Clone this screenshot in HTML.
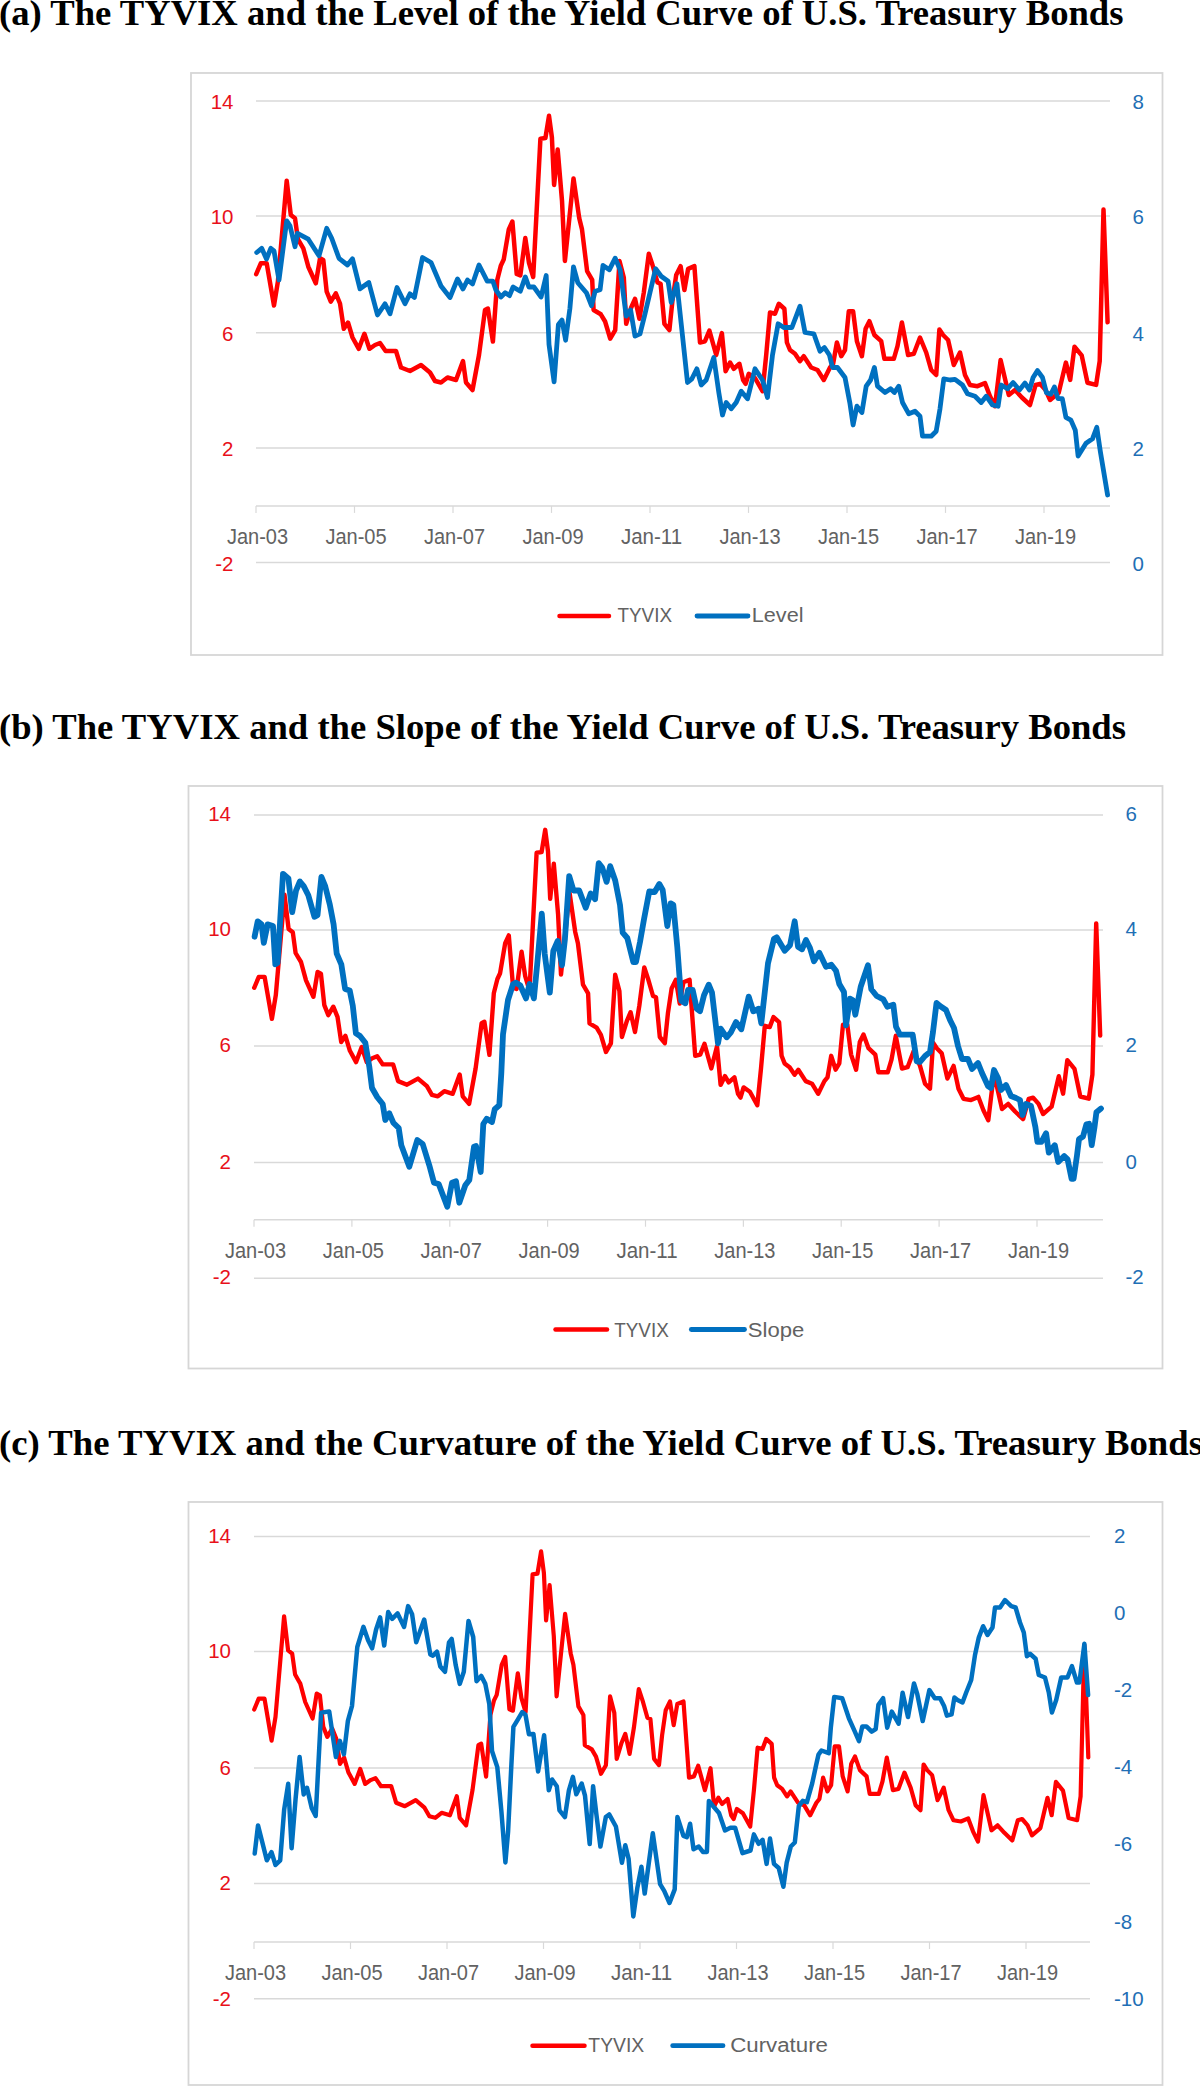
<!DOCTYPE html>
<html><head><meta charset="utf-8"><title>TYVIX and the Yield Curve</title><style>
html,body{margin:0;padding:0;background:#fff;overflow:hidden;}
svg{display:block;}
.t{font-family:"Liberation Serif",serif;font-weight:bold;font-size:36px;fill:#000;}
.ax{font-family:"Liberation Sans",sans-serif;font-size:21.5px;fill:#626262;}
.lr{font-family:"Liberation Sans",sans-serif;font-size:20.5px;fill:#E8101A;}
.rb{font-family:"Liberation Sans",sans-serif;font-size:20.5px;fill:#1F6FB5;}
.lg{font-family:"Liberation Sans",sans-serif;font-size:20px;fill:#626262;}
</style></head><body>
<svg width="1200" height="2086" viewBox="0 0 1200 2086">
<rect width="1200" height="2086" fill="#fff"/>
<text class="t" x="-1" y="25" textLength="1124.5" lengthAdjust="spacingAndGlyphs">(a) The TYVIX and the Level of the Yield Curve of U.S. Treasury Bonds</text>
<rect x="191" y="73" width="971.5" height="582" fill="#fff" stroke="#D6D6D6" stroke-width="1.8"/>
<line x1="256" x2="1110" y1="101.0" y2="101.0" stroke="#D9D9D9" stroke-width="1.5"/>
<text class="lr" x="233.5" y="109.3" text-anchor="end">14</text>
<line x1="256" x2="1110" y1="216.1" y2="216.1" stroke="#D9D9D9" stroke-width="1.5"/>
<text class="lr" x="233.5" y="224.4" text-anchor="end">10</text>
<line x1="256" x2="1110" y1="332.8" y2="332.8" stroke="#D9D9D9" stroke-width="1.5"/>
<text class="lr" x="233.5" y="341.1" text-anchor="end">6</text>
<line x1="256" x2="1110" y1="447.9" y2="447.9" stroke="#D9D9D9" stroke-width="1.5"/>
<text class="lr" x="233.5" y="456.2" text-anchor="end">2</text>
<line x1="256" x2="1110" y1="562.6" y2="562.6" stroke="#D9D9D9" stroke-width="1.5"/>
<text class="lr" x="233.5" y="570.9" text-anchor="end">-2</text>
<text class="rb" x="1132.5" y="109.3">8</text>
<text class="rb" x="1132.5" y="224.4">6</text>
<text class="rb" x="1132.5" y="341.1">4</text>
<text class="rb" x="1132.5" y="456.2">2</text>
<text class="rb" x="1132.5" y="570.9">0</text>
<line x1="256" x2="1110" y1="505.9" y2="505.9" stroke="#D9D9D9" stroke-width="1.5"/>
<line x1="256.0" x2="256.0" y1="505.9" y2="512.9" stroke="#D9D9D9" stroke-width="1.2"/>
<text class="ax" x="226.9" y="544.3" textLength="61.2" lengthAdjust="spacingAndGlyphs">Jan-03</text>
<line x1="354.5" x2="354.5" y1="505.9" y2="512.9" stroke="#D9D9D9" stroke-width="1.2"/>
<text class="ax" x="325.4" y="544.3" textLength="61.2" lengthAdjust="spacingAndGlyphs">Jan-05</text>
<line x1="453.0" x2="453.0" y1="505.9" y2="512.9" stroke="#D9D9D9" stroke-width="1.2"/>
<text class="ax" x="423.9" y="544.3" textLength="61.2" lengthAdjust="spacingAndGlyphs">Jan-07</text>
<line x1="551.5" x2="551.5" y1="505.9" y2="512.9" stroke="#D9D9D9" stroke-width="1.2"/>
<text class="ax" x="522.4" y="544.3" textLength="61.2" lengthAdjust="spacingAndGlyphs">Jan-09</text>
<line x1="650.0" x2="650.0" y1="505.9" y2="512.9" stroke="#D9D9D9" stroke-width="1.2"/>
<text class="ax" x="620.9" y="544.3" textLength="61.2" lengthAdjust="spacingAndGlyphs">Jan-11</text>
<line x1="748.5" x2="748.5" y1="505.9" y2="512.9" stroke="#D9D9D9" stroke-width="1.2"/>
<text class="ax" x="719.4" y="544.3" textLength="61.2" lengthAdjust="spacingAndGlyphs">Jan-13</text>
<line x1="847.0" x2="847.0" y1="505.9" y2="512.9" stroke="#D9D9D9" stroke-width="1.2"/>
<text class="ax" x="817.9" y="544.3" textLength="61.2" lengthAdjust="spacingAndGlyphs">Jan-15</text>
<line x1="945.5" x2="945.5" y1="505.9" y2="512.9" stroke="#D9D9D9" stroke-width="1.2"/>
<text class="ax" x="916.4" y="544.3" textLength="61.2" lengthAdjust="spacingAndGlyphs">Jan-17</text>
<line x1="1044.0" x2="1044.0" y1="505.9" y2="512.9" stroke="#D9D9D9" stroke-width="1.2"/>
<text class="ax" x="1014.9" y="544.3" textLength="61.2" lengthAdjust="spacingAndGlyphs">Jan-19</text>
<line x1="559.5" x2="609" y1="616" y2="616" stroke="#FF0000" stroke-width="4.5" stroke-linecap="round"/>
<text class="lg" x="617.5" y="621.6" textLength="54.5" lengthAdjust="spacingAndGlyphs">TYVIX</text>
<line x1="697" x2="748" y1="616" y2="616" stroke="#0070C0" stroke-width="4.8" stroke-linecap="round"/>
<text class="lg" x="751.8" y="621.6" textLength="51.7" lengthAdjust="spacingAndGlyphs">Level</text>
<polyline fill="none" stroke="#FF0000" stroke-width="4.5" stroke-linejoin="round" stroke-linecap="round" points="256.2,274.2 260.8,263.3 266.7,263.3 274,305.5 277.9,281.7 286.7,180.8 290.8,215 295,218.3 297.9,239.2 300.8,244.2 303.3,248.3 308.3,266.7 315.8,283.3 320,258.3 323.3,260 326.7,291.7 330.8,301.7 335.8,293.3 340,303.5 343.8,328.8 348,322.5 352.5,337.5 358.8,348.8 364.4,333.8 369.4,348.8 375,345 380,343 385.6,351 396,351 401,367.5 410,371 421,365 430,372.5 435,381 441,382.5 447.5,377.5 456,380 463,361 466,382.5 472.5,390 479,355 485,310 487.9,308.5 492.9,341.6 497.3,279.8 500.9,265.4 503.7,259.6 508.8,229.4 512.4,221.5 516.7,274 520.3,275.5 525.3,238 528.9,262.5 533.2,277 540.4,138.8 545.4,138.1 549,115.8 551.9,137.4 554.1,184.9 557.7,149.6 562,200.7 564.9,261 573.5,178.4 579.2,218 582,229.4 587.1,271.1 592.2,279.8 593.6,310 600.8,314.3 605.1,321.5 610.2,338.7 615.2,330.1 619.5,261.1 623.8,277.5 626.2,323.8 631.2,307.5 635,298.8 639.4,318.8 643.8,292.5 648.8,253.8 652.5,265 657.5,282.5 660.6,283.8 664.4,323.8 669.4,330 672.5,300 676.2,275 680.6,266.2 684.4,290 688.1,268.8 694.4,266.2 700,342.5 705,341.2 709.4,330.6 716.2,355 721.9,333.1 725.6,371.2 730,362.5 733.8,368.8 739.4,363.8 743.1,380 745.6,383.8 748.8,373.8 755,378 762.5,391.2 766.2,355 770,312.5 775,313.8 778.8,303.8 784.4,308.8 786.9,342.5 790,350 795,353.8 800,361.2 803.8,356.2 811.2,367.5 817.5,370 823.8,380 830,367.5 833.1,363.8 836.9,342.5 841.2,356.2 845,350 848.8,311.2 853.1,311.2 856.9,341.2 861.9,356.2 865.6,328.8 869.4,321.2 874.4,335 881.2,341.2 884.4,358.8 893.8,358.8 897.5,346.2 901.9,322.5 908.1,355 913.8,353.8 920,337.5 926.2,352.5 931.2,370 936.2,375 939.4,329.4 943.1,335 948.1,340 953.8,365 960,352.5 965,375 970,385 977.5,386.2 985,383.1 990,396.2 995,406.2 1000.6,360 1005,378.8 1008.8,395 1015,390 1021.9,397.5 1030,405 1035.6,385 1040,383.8 1045.6,390 1050.1,400 1058.7,392.8 1065.9,362.6 1070.2,379.9 1074.5,346.8 1081.7,355.4 1087.5,382.7 1096.1,384.9 1099.7,361.2 1103.5,209.5 1107.6,322.3"/>
<polyline fill="none" stroke="#0070C0" stroke-width="4.8" stroke-linejoin="round" stroke-linecap="round" points="256.7,252.5 261.7,248.3 266.5,259 270.8,248.3 274,250.8 279,280 286.7,220.8 290,225.8 295,246.7 297.5,233.3 308.3,239.2 319,255.8 326.7,228.3 331.7,238.3 339,258.3 347.5,265 352.5,258.8 360,288.8 368.8,282.5 377.5,315 385,303.8 390,313.8 397,287.5 405,303.8 410,293.8 414.4,297.5 422.5,257.5 431,262.5 441,286 450,297.5 457.5,279 463,289 467.5,280 472.5,284 479,265 487.2,281.2 492.9,281.2 495.8,289.8 500.9,297 505.2,292.7 509.5,295.6 513.1,287 520.3,291.3 525.3,276.9 528.9,287 533.9,287 541.1,297 546.2,275.5 549,344.5 554.1,381.9 558.4,324.4 562,320 565.6,340.2 569.9,308.5 573.5,266.8 577.8,282.7 586.4,292.7 591.5,305.7 595.1,291.3 600.1,289.8 603,265.4 609.4,269.7 615.2,258.2 620.2,270 626.2,316.2 630.6,310 635,336.2 640,333.8 645,313.8 650,292.5 655.6,268.8 661.2,276.2 668.1,281.2 671.2,302.5 676.9,283.8 681.2,323.8 687.5,382.5 691.9,378.8 696.9,368.8 701.2,385 706.2,380 713.8,357.5 718.8,392.5 722.5,415 726.2,402.5 731.2,408.8 736.2,402.5 741.2,391.2 747.5,398.8 755,368.8 762.5,380 767.5,397.5 772.5,355 778.1,323.8 783.8,327.5 791.9,327.5 800,306.2 805,332.5 813.8,333.8 820,351.2 824.4,347.5 829.4,355 832.5,367.5 837.5,367.5 845,377.5 850,403.8 853.1,425 856.9,406.2 861.9,412.5 866.2,386.2 870.6,380 874.4,367.5 877.5,386.2 885,392.5 890.6,388.8 894.4,392.5 898.8,386.2 902.5,402.5 908.8,413.8 915,411.2 920,416.2 922.5,436.2 931.2,436.2 936.2,431.2 940,408.8 943.8,378.8 950,380 955,379.4 962.5,385 967.5,393.8 975,396.2 981.2,402.5 986.2,396.2 992.5,405 998.1,406.2 1001.2,385 1007.5,388.8 1013.1,382.5 1019.4,390 1025,383.1 1029.4,390 1033.1,377.5 1037.5,370.6 1042.5,377.5 1046.5,392.8 1050.8,394.2 1054.4,387 1058,398.6 1062.3,398.6 1065.9,417.3 1070.9,420.1 1075.3,430.2 1078.1,456.1 1086,443.2 1092.5,438.8 1096.8,427.3 1100.4,451.8 1107.6,495"/>
<text class="t" x="-1" y="739" textLength="1127" lengthAdjust="spacingAndGlyphs">(b) The TYVIX and the Slope of the Yield Curve of U.S. Treasury Bonds</text>
<rect x="188.5" y="786" width="974.0" height="582.5" fill="#fff" stroke="#D6D6D6" stroke-width="1.8"/>
<line x1="254" x2="1103" y1="815.0" y2="815.0" stroke="#D9D9D9" stroke-width="1.5"/>
<text class="lr" x="231" y="821.1" text-anchor="end">14</text>
<line x1="254" x2="1103" y1="930.0" y2="930.0" stroke="#D9D9D9" stroke-width="1.5"/>
<text class="lr" x="231" y="936.1" text-anchor="end">10</text>
<line x1="254" x2="1103" y1="1046.0" y2="1046.0" stroke="#D9D9D9" stroke-width="1.5"/>
<text class="lr" x="231" y="1052.1" text-anchor="end">6</text>
<line x1="254" x2="1103" y1="1162.5" y2="1162.5" stroke="#D9D9D9" stroke-width="1.5"/>
<text class="lr" x="231" y="1168.6" text-anchor="end">2</text>
<line x1="254" x2="1103" y1="1278.3" y2="1278.3" stroke="#D9D9D9" stroke-width="1.5"/>
<text class="lr" x="231" y="1284.4" text-anchor="end">-2</text>
<text class="rb" x="1125.5" y="821.1">6</text>
<text class="rb" x="1125.5" y="936.1">4</text>
<text class="rb" x="1125.5" y="1052.1">2</text>
<text class="rb" x="1125.5" y="1168.6">0</text>
<text class="rb" x="1125.5" y="1284.4">-2</text>
<line x1="254" x2="1103" y1="1219.7" y2="1219.7" stroke="#D9D9D9" stroke-width="1.5"/>
<line x1="254.0" x2="254.0" y1="1219.7" y2="1226.7" stroke="#D9D9D9" stroke-width="1.2"/>
<text class="ax" x="224.9" y="1258.1" textLength="61.2" lengthAdjust="spacingAndGlyphs">Jan-03</text>
<line x1="351.9" x2="351.9" y1="1219.7" y2="1226.7" stroke="#D9D9D9" stroke-width="1.2"/>
<text class="ax" x="322.8" y="1258.1" textLength="61.2" lengthAdjust="spacingAndGlyphs">Jan-05</text>
<line x1="449.8" x2="449.8" y1="1219.7" y2="1226.7" stroke="#D9D9D9" stroke-width="1.2"/>
<text class="ax" x="420.6" y="1258.1" textLength="61.2" lengthAdjust="spacingAndGlyphs">Jan-07</text>
<line x1="547.6" x2="547.6" y1="1219.7" y2="1226.7" stroke="#D9D9D9" stroke-width="1.2"/>
<text class="ax" x="518.5" y="1258.1" textLength="61.2" lengthAdjust="spacingAndGlyphs">Jan-09</text>
<line x1="645.5" x2="645.5" y1="1219.7" y2="1226.7" stroke="#D9D9D9" stroke-width="1.2"/>
<text class="ax" x="616.4" y="1258.1" textLength="61.2" lengthAdjust="spacingAndGlyphs">Jan-11</text>
<line x1="743.4" x2="743.4" y1="1219.7" y2="1226.7" stroke="#D9D9D9" stroke-width="1.2"/>
<text class="ax" x="714.3" y="1258.1" textLength="61.2" lengthAdjust="spacingAndGlyphs">Jan-13</text>
<line x1="841.2" x2="841.2" y1="1219.7" y2="1226.7" stroke="#D9D9D9" stroke-width="1.2"/>
<text class="ax" x="812.1" y="1258.1" textLength="61.2" lengthAdjust="spacingAndGlyphs">Jan-15</text>
<line x1="939.1" x2="939.1" y1="1219.7" y2="1226.7" stroke="#D9D9D9" stroke-width="1.2"/>
<text class="ax" x="910.0" y="1258.1" textLength="61.2" lengthAdjust="spacingAndGlyphs">Jan-17</text>
<line x1="1037.0" x2="1037.0" y1="1219.7" y2="1226.7" stroke="#D9D9D9" stroke-width="1.2"/>
<text class="ax" x="1007.9" y="1258.1" textLength="61.2" lengthAdjust="spacingAndGlyphs">Jan-19</text>
<line x1="555.5" x2="607" y1="1329.5" y2="1329.5" stroke="#FF0000" stroke-width="4.5" stroke-linecap="round"/>
<text class="lg" x="614.2" y="1336.5" textLength="54.6" lengthAdjust="spacingAndGlyphs">TYVIX</text>
<line x1="691.3" x2="744.5" y1="1329.5" y2="1329.5" stroke="#0070C0" stroke-width="4.8" stroke-linecap="round"/>
<text class="lg" x="747.8" y="1336.5" textLength="56.4" lengthAdjust="spacingAndGlyphs">Slope</text>
<polyline fill="none" stroke="#FF0000" stroke-width="4.4" stroke-linejoin="round" stroke-linecap="round" points="254.2,987.8 258.8,976.9 264.6,976.9 271.9,1018.9 275.8,995.2 284.5,894.7 288.6,928.9 292.8,932.2 295.6,953 298.5,957.9 301,962 306,980.3 313.4,996.8 317.6,971.9 320.9,973.6 324.3,1005.1 328.3,1015.1 333.3,1006.7 337.5,1016.9 341.2,1042 345.4,1035.8 349.9,1050.8 356.1,1062.1 361.7,1047 366.7,1062.1 372.2,1058.3 377.2,1056.3 382.8,1064.4 393.1,1064.4 398.1,1081.1 407,1084.7 418,1078.6 426.9,1086.2 431.9,1094.8 437.8,1096.3 444.3,1091.2 452.7,1093.8 459.7,1074.5 462.7,1096.3 469.1,1103.9 475.6,1068.5 481.6,1023.3 484.4,1021.8 489.4,1054.9 493.8,993.3 497.4,979 500.1,973.2 505.2,943.2 508.8,935.4 513.1,987.6 516.6,989 521.6,951.8 525.2,976.1 529.5,990.5 536.6,852.8 541.6,852.1 545.2,829.8 548,851.4 550.2,898.8 553.8,863.6 558.1,914.6 561,974.6 569.5,892.3 575.2,931.9 577.9,943.2 583,984.7 588.1,993.3 589.5,1023.3 596.6,1027.6 600.9,1034.8 606,1052 610.9,1043.3 615.2,974.7 619.4,991 621.9,1037 626.9,1020.9 630.6,1012.2 635,1032 639.3,1005.9 644.3,967.4 648,978.6 653,996 656,997.2 659.8,1037 664.8,1043.2 667.9,1013.4 671.6,988.5 675.9,979.8 679.7,1003.5 683.4,982.3 689.6,979.8 695.2,1055.8 700.2,1054.6 704.5,1043.8 711.3,1068.5 717,1046.3 720.6,1084.9 725,1076.1 728.7,1082.4 734.4,1077.3 738,1093.8 740.5,1097.6 743.6,1087.4 749.9,1091.7 757.3,1105.2 761,1068.5 764.8,1025.8 769.7,1027.1 773.5,1017.1 779.1,1022.1 781.6,1055.8 784.6,1063.4 789.6,1067.2 794.6,1074.8 798.3,1069.7 805.7,1081.1 812,1083.7 818.2,1093.8 824.4,1081.1 827.5,1077.3 831.2,1055.8 835.6,1069.7 839.3,1063.4 843,1024.6 847.3,1024.6 851.1,1054.6 856.1,1069.7 859.8,1042 863.5,1034.5 868.5,1048.2 875.3,1054.6 878.4,1072.3 887.7,1072.3 891.5,1059.6 895.8,1035.8 902,1068.5 907.6,1067.2 913.8,1050.8 920,1065.9 925,1083.7 930,1088.7 933.1,1042.6 936.8,1048.2 941.7,1053.3 947.4,1078.6 953.6,1065.9 958.5,1088.7 963.5,1098.8 971,1100.1 978.4,1096.9 983.4,1110.2 988.3,1120.3 993.9,1073.5 998.3,1092.5 1002,1109 1008.2,1103.9 1015.1,1111.5 1023.1,1119.1 1028.7,1098.8 1033.1,1097.6 1038.6,1103.9 1043.1,1114 1051.6,1106.7 1058.8,1076.2 1063.1,1093.7 1067.3,1060.2 1074.5,1068.9 1080.3,1096.5 1088.8,1098.7 1092.4,1074.7 1096.2,923.4 1100.2,1035.6"/>
<polyline fill="none" stroke="#0070C0" stroke-width="5.8" stroke-linejoin="round" stroke-linecap="round" points="254.6,936.7 257.7,921.4 261.5,924.4 263.8,942.9 267.6,924.4 273,926 275.3,964.3 277.6,962.8 283,873.8 288.4,878.4 292.2,912.2 296,890.7 299.9,881.5 303.7,886.1 308.3,895.3 314.4,916.8 317.5,915.2 321.4,876.9 325.2,886.1 329.8,904.5 333.6,924.4 336.7,953.6 341.3,964.3 345.1,988.9 349.7,990.4 352.8,1005.8 355.9,1033.4 360,1036 365.3,1042.7 369.3,1066.7 372,1088 377.3,1097.3 382.7,1104 385.3,1120 389.3,1113.3 393.3,1122.7 398.7,1128 401.3,1145.3 409.3,1166.7 417.3,1140 422.7,1144 429.3,1165.3 434,1182.7 438.7,1184 447.3,1206.7 452,1182.7 456,1181.3 459.3,1202.7 465.3,1185.3 469.3,1180 474,1146.7 476,1146 480.7,1172 483.3,1124 486.7,1118.7 492,1122 494.7,1109.3 499.3,1105.3 501.3,1073.3 503,1034.4 508,1000 513.1,984 516,982.6 520.3,985.5 526,998.4 529.6,984 533.9,998.4 537.5,961 541.8,913.6 544.7,953.8 549.8,992.7 553.3,951 557.7,940.9 562,965.3 564.9,939.4 569.2,876.2 573.5,890.5 579.2,890.5 585.7,907.8 590.7,893.4 595.1,899.2 598.7,863.2 602.2,867.5 606.6,881.9 610.2,866.1 615.2,880.5 620,905 622.7,932.7 627.3,938 633.3,962 636,962 640,942 644,919.3 649.3,891.3 654.7,892 659.3,884 662.7,890 667.3,926 670.7,903.3 673.3,904.7 677.3,947.3 681.3,1000.7 685.3,1003.3 688,990 692.7,990 696.7,1008.7 700,1011.3 704,995.3 708.7,984.7 712,992.7 718,1043.3 720.7,1028.7 726.7,1037.3 730.7,1032.7 736,1022 741.3,1029.3 748.7,996.7 753.3,1011.3 758.7,1008.7 761.3,1023.3 768,963.3 774,938.7 776.7,937.3 784.7,950.7 790,945.3 794.7,921.3 798,946.7 802,949.3 806,940 810,948 814,961.3 819.3,952.7 826,966.7 831.3,964.7 836,970.7 839.3,984 844,992 846,1025.3 850,998.7 852.7,1000 855.3,1014.7 860.7,986.7 868,965.3 871.3,989.3 876.7,996 883.3,999.3 887.3,1006.7 893.3,1004.7 896,1026.7 900,1034.7 912.7,1034.7 916.7,1061.3 920,1062 925,1056 930,1052 933,1032 936.5,1003 940,1006 946,1010 950,1020 954,1028 958,1046 962,1059 968,1059 972,1069 978,1063 982,1073 988,1086 991,1088 994,1070 998,1078 1001,1090 1006,1085 1011,1096 1016,1098 1020,1100 1022.5,1115 1026,1104 1031,1106 1035.4,1127.1 1037.4,1141.9 1041.4,1141.9 1046.1,1133.2 1048.8,1152.6 1054.8,1145.2 1058.2,1162 1064.2,1156 1067.6,1159.3 1071.6,1178.8 1073.6,1178.8 1077,1155.3 1079,1139.2 1083,1136.5 1086.4,1124.4 1089.1,1123.8 1091.7,1145.2 1094.4,1127.8 1096.4,1112.3 1101,1108.5"/>
<text class="t" x="-1" y="1455" textLength="1204" lengthAdjust="spacingAndGlyphs">(c) The TYVIX and the Curvature of the Yield Curve of U.S. Treasury Bonds</text>
<rect x="188.5" y="1502" width="974.0" height="583" fill="#fff" stroke="#D6D6D6" stroke-width="1.8"/>
<line x1="254" x2="1090" y1="1536.6" y2="1536.6" stroke="#D9D9D9" stroke-width="1.5"/>
<text class="lr" x="231" y="1543.4" text-anchor="end">14</text>
<line x1="254" x2="1090" y1="1651.5" y2="1651.5" stroke="#D9D9D9" stroke-width="1.5"/>
<text class="lr" x="231" y="1658.3" text-anchor="end">10</text>
<line x1="254" x2="1090" y1="1767.9" y2="1767.9" stroke="#D9D9D9" stroke-width="1.5"/>
<text class="lr" x="231" y="1774.7" text-anchor="end">6</text>
<line x1="254" x2="1090" y1="1883.4" y2="1883.4" stroke="#D9D9D9" stroke-width="1.5"/>
<text class="lr" x="231" y="1890.2" text-anchor="end">2</text>
<line x1="254" x2="1090" y1="1998.7" y2="1998.7" stroke="#D9D9D9" stroke-width="1.5"/>
<text class="lr" x="231" y="2005.5" text-anchor="end">-2</text>
<text class="rb" x="1114" y="1543.4">2</text>
<text class="rb" x="1114" y="1620.4">0</text>
<text class="rb" x="1114" y="1697.4">-2</text>
<text class="rb" x="1114" y="1774.4">-4</text>
<text class="rb" x="1114" y="1851.4">-6</text>
<text class="rb" x="1114" y="1928.5">-8</text>
<text class="rb" x="1114" y="2005.5">-10</text>
<line x1="254" x2="1090" y1="1942.0" y2="1942.0" stroke="#D9D9D9" stroke-width="1.5"/>
<line x1="254.0" x2="254.0" y1="1942.0" y2="1949.0" stroke="#D9D9D9" stroke-width="1.2"/>
<text class="ax" x="224.9" y="1980.4" textLength="61.2" lengthAdjust="spacingAndGlyphs">Jan-03</text>
<line x1="350.5" x2="350.5" y1="1942.0" y2="1949.0" stroke="#D9D9D9" stroke-width="1.2"/>
<text class="ax" x="321.4" y="1980.4" textLength="61.2" lengthAdjust="spacingAndGlyphs">Jan-05</text>
<line x1="447.0" x2="447.0" y1="1942.0" y2="1949.0" stroke="#D9D9D9" stroke-width="1.2"/>
<text class="ax" x="417.9" y="1980.4" textLength="61.2" lengthAdjust="spacingAndGlyphs">Jan-07</text>
<line x1="543.5" x2="543.5" y1="1942.0" y2="1949.0" stroke="#D9D9D9" stroke-width="1.2"/>
<text class="ax" x="514.4" y="1980.4" textLength="61.2" lengthAdjust="spacingAndGlyphs">Jan-09</text>
<line x1="640.0" x2="640.0" y1="1942.0" y2="1949.0" stroke="#D9D9D9" stroke-width="1.2"/>
<text class="ax" x="610.9" y="1980.4" textLength="61.2" lengthAdjust="spacingAndGlyphs">Jan-11</text>
<line x1="736.5" x2="736.5" y1="1942.0" y2="1949.0" stroke="#D9D9D9" stroke-width="1.2"/>
<text class="ax" x="707.4" y="1980.4" textLength="61.2" lengthAdjust="spacingAndGlyphs">Jan-13</text>
<line x1="833.0" x2="833.0" y1="1942.0" y2="1949.0" stroke="#D9D9D9" stroke-width="1.2"/>
<text class="ax" x="803.9" y="1980.4" textLength="61.2" lengthAdjust="spacingAndGlyphs">Jan-15</text>
<line x1="929.5" x2="929.5" y1="1942.0" y2="1949.0" stroke="#D9D9D9" stroke-width="1.2"/>
<text class="ax" x="900.4" y="1980.4" textLength="61.2" lengthAdjust="spacingAndGlyphs">Jan-17</text>
<line x1="1026.0" x2="1026.0" y1="1942.0" y2="1949.0" stroke="#D9D9D9" stroke-width="1.2"/>
<text class="ax" x="996.9" y="1980.4" textLength="61.2" lengthAdjust="spacingAndGlyphs">Jan-19</text>
<line x1="532.5" x2="584.5" y1="2045.7" y2="2045.7" stroke="#FF0000" stroke-width="4.5" stroke-linecap="round"/>
<text class="lg" x="588.3" y="2052.4" textLength="56.0" lengthAdjust="spacingAndGlyphs">TYVIX</text>
<line x1="672.7" x2="723" y1="2045.7" y2="2045.7" stroke="#0070C0" stroke-width="4.8" stroke-linecap="round"/>
<text class="lg" x="730.2" y="2052.4" textLength="97.8" lengthAdjust="spacingAndGlyphs">Curvature</text>
<polyline fill="none" stroke="#FF0000" stroke-width="4.2" stroke-linejoin="round" stroke-linecap="round" points="254.2,1709.5 258.7,1698.6 264.5,1698.6 271.6,1740.7 275.5,1716.9 284.1,1616.3 288.1,1650.4 292.2,1653.7 295.1,1674.5 297.9,1679.5 300.3,1683.6 305.2,1702 312.6,1718.5 316.7,1693.6 319.9,1695.3 323.3,1726.9 327.3,1736.9 332.2,1728.5 336.3,1738.7 340,1763.9 344.1,1757.6 348.5,1772.6 354.7,1783.9 360.2,1768.9 365.1,1783.9 370.6,1780.1 375.5,1778.1 381,1786.2 391.2,1786.2 396.1,1802.7 404.9,1806.2 415.7,1800.2 424.5,1807.7 429.4,1816.3 435.3,1817.8 441.6,1812.8 449.9,1815.3 456.8,1796.2 459.7,1817.8 466.1,1825.3 472.5,1790.2 478.4,1745.2 481.2,1743.7 486.1,1776.7 490.4,1715 493.9,1700.7 496.7,1694.9 501.7,1664.8 505.2,1656.9 509.4,1709.3 512.9,1710.7 517.8,1673.3 521.4,1697.8 525.6,1712.2 532.6,1574.3 537.5,1573.6 541.1,1551.4 543.9,1572.9 546.1,1620.4 549.6,1585.1 553.8,1636.1 556.6,1696.3 565.1,1613.9 570.7,1653.4 573.4,1664.8 578.4,1706.4 583.4,1715 584.8,1745.2 591.8,1749.4 596,1756.6 601,1773.8 605.9,1765.2 610.1,1696.4 614.3,1712.7 616.7,1758.9 621.6,1742.7 625.3,1733.9 629.6,1753.9 633.9,1727.7 638.8,1689.1 642.5,1700.3 647.4,1717.7 650.4,1719 654.1,1758.9 659,1765.1 662.1,1735.2 665.7,1710.2 670,1701.5 673.7,1725.2 677.3,1704 683.5,1701.5 689,1777.6 693.9,1776.4 698.2,1765.7 704.9,1790.2 710.5,1768.2 714.1,1806.5 718.4,1797.7 722.1,1804 727.6,1799 731.2,1815.3 733.7,1819 736.8,1809 742.9,1813.3 750.2,1826.6 753.9,1790.2 757.6,1747.7 762.5,1748.9 766.2,1738.9 771.7,1743.9 774.1,1777.6 777.2,1785.2 782.1,1788.9 787,1796.4 790.6,1791.4 798,1802.7 804.1,1805.2 810.2,1815.3 816.4,1802.7 819.4,1799 823.1,1777.6 827.4,1791.4 831.1,1785.2 834.7,1746.4 839,1746.4 842.7,1776.4 847.6,1791.4 851.2,1763.9 855,1756.4 859.9,1770.1 866.6,1776.4 869.7,1793.9 878.8,1793.9 882.5,1781.4 886.8,1757.6 892.9,1790.2 898.4,1788.9 904.5,1772.6 910.7,1787.7 915.6,1805.2 920.5,1810.2 923.6,1764.5 927.2,1770.1 932.1,1775.1 937.6,1800.2 943.7,1787.7 948.6,1810.2 953.5,1820.3 960.9,1821.5 968.2,1818.4 973.1,1831.6 978,1841.6 983.5,1795.2 987.8,1814 991.5,1830.3 997.6,1825.3 1004.4,1832.8 1012.3,1840.4 1017.8,1820.3 1022.1,1819 1027.6,1825.3 1032,1835.3 1040.4,1828.1 1047.5,1797.8 1051.7,1815.2 1055.9,1781.9 1063,1790.6 1068.6,1818 1077.1,1820.2 1080.6,1796.4 1084.3,1644.9 1088.3,1757.4"/>
<polyline fill="none" stroke="#0070C0" stroke-width="4.5" stroke-linejoin="round" stroke-linecap="round" points="254.7,1853.6 258,1825.4 262.1,1841.5 266.8,1860.3 271.5,1852.2 275.5,1865 280.2,1860.3 284.2,1809.3 288.2,1783.8 291.6,1848.2 295.6,1798.6 299.6,1757 303.7,1794.6 307,1787.8 311.7,1808 315.7,1816 321.1,1712.7 329.2,1711.4 335.9,1757 339.9,1740.9 343.9,1754.3 347.9,1720.8 352,1706 357.3,1647 363.4,1626.8 368.1,1640.3 372.1,1648.3 376.1,1629.5 380.1,1617.4 384.2,1645.6 388.2,1612.1 392.2,1618.8 397.6,1613.4 404.1,1626.9 408.1,1606.1 412.1,1614.2 416.2,1642.3 424.2,1619.5 430.3,1654.4 432.9,1655.7 437,1651.7 440.3,1666.5 445,1671.8 449,1642.3 451.7,1639 455.7,1665.1 459.8,1683.9 463.8,1671.8 468.5,1620.9 473.2,1637 476.5,1681.2 481.2,1675.9 485.3,1683.9 489.3,1704 492,1751 497.3,1767.1 501.4,1811.4 505.4,1862.4 508.1,1831.5 511.4,1764.4 513.4,1726.9 517.5,1720.1 522.2,1712.1 525.5,1714.8 528.9,1734.2 533.4,1733.9 538.1,1771.5 544.1,1735.3 548.8,1790.3 552.1,1779.5 556.8,1786.2 559.5,1810.4 564.9,1817.1 568.9,1790.3 572.9,1776.9 576.3,1794.3 581.7,1783.6 585,1795.6 589.7,1844 593.1,1786.2 596.4,1814.4 600.4,1846.6 605.8,1817.1 609.2,1814.4 615.9,1826.5 621.9,1862.7 625.3,1845.3 628.6,1858.7 633.3,1916.4 637.3,1888.2 641.4,1866.8 644.7,1893.6 652.8,1833.2 660.1,1884.2 664.2,1890.9 669.5,1903 674.7,1889.4 677.4,1817 683.4,1835.8 686.8,1837.1 690.1,1823.7 693.5,1849.2 698.8,1846.5 702.9,1851.9 706.9,1851.9 708.9,1800.9 714.3,1807.6 719,1813 725,1830.4 730.4,1827.7 735.1,1827.7 742.5,1853.2 750.5,1850.5 753.9,1834.4 758.6,1843.8 762.6,1839.8 766.6,1863.9 770,1838.5 774,1863.9 778.7,1868 783.4,1886.8 786.7,1862.6 790.8,1846.5 794.8,1842.5 798.8,1806.2 802.8,1800.9 806.9,1802.2 812.2,1783.4 816.2,1764.7 818.5,1754.6 821.4,1750.5 828.8,1753.2 830.8,1727.7 834.2,1696.9 842.2,1698.2 848.9,1718.3 854.3,1730.4 859,1741.1 862.3,1726.4 866.4,1726.4 871.7,1731.7 875.7,1729.1 878.4,1704.9 883.1,1698.2 887.2,1727.7 891.8,1711.6 898.6,1723.7 902.6,1692.8 908,1717 914,1683.4 917.3,1694.2 922.7,1721 929.4,1690.1 934.8,1698.2 940.1,1698.2 944.2,1706.3 946.9,1715.6 951.6,1714.3 954.4,1697.5 957.5,1700 962.5,1702.5 966.2,1692.5 971.2,1680 975,1655 978.8,1637.5 983.1,1626.2 987.5,1635 992.5,1627.5 995,1607.5 1000,1607.5 1005,1600 1011.2,1606.2 1015.6,1607.5 1020,1622.5 1023.8,1632.5 1026.9,1656.2 1030,1653.8 1035.6,1658.8 1038.8,1675 1045,1677.5 1048.8,1692.5 1051.9,1712.5 1056.2,1700 1061.2,1677.5 1067.5,1677.5 1071.9,1666.2 1076.9,1682.5 1079.4,1682.5 1084.4,1643.8 1088.1,1695"/>
</svg>
</body></html>
